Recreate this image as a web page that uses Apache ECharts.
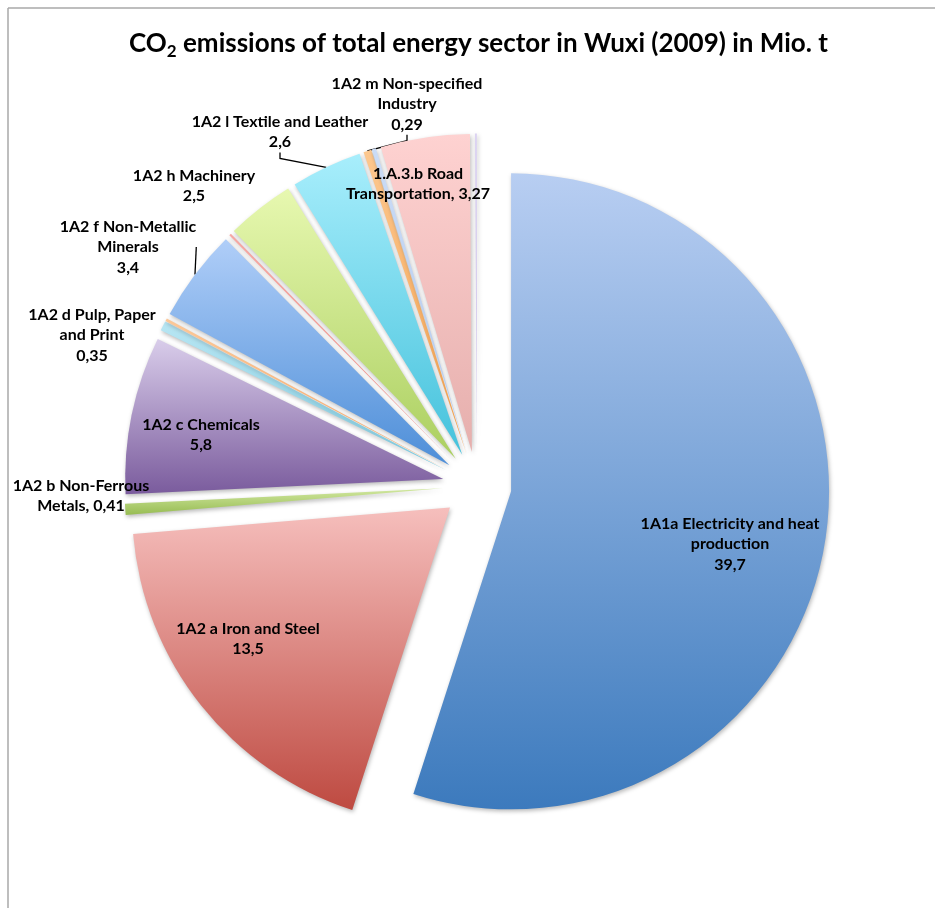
<!DOCTYPE html>
<html>
<head>
<meta charset="utf-8">
<script src="https://cdn.jsdelivr.net/npm/echarts@6/dist/echarts.min.js"></script>
<style>
html,body{margin:0;padding:0;background:#fff;}
#c{width:935px;height:908px;}
</style>
</head>
<body>
<div id="c"></div>
<script>
// ---- data ----
const categories = [
  '1A1a Electricity and heat production',
  '1A2 a Iron and Steel',
  '1A2 b Non-Ferrous Metals',
  '1A2 c Chemicals',
  '1A2 d Pulp, Paper and Print',
  '1A2 e Food Processing, Beverages and Tobacco',
  '1A2 f Non-Metallic Minerals',
  '1A2 g Transport Equipment',
  '1A2 h Machinery',
  '1A2 l Textile and Leather',
  '1A2 m Non-specified Industry',
  '1.A.3.a Civil Aviation',
  '1.A.3.b Road Transportation',
  '1.A.3.d Navigation'
];
const values = [39.7, 13.5, 0.41, 5.8, 0.35, 0.1, 3.4, 0.08, 2.5, 2.6, 0.29, 0.15, 3.27, 0.07];
const labelNames = [
  '1A1a Electricity and heat\nproduction',
  '1A2 a Iron and Steel',
  '1A2 b Non-Ferrous\nMetals',
  '1A2 c Chemicals',
  '1A2 d Pulp, Paper\nand Print',
  '',
  '1A2 f Non-Metallic\nMinerals',
  '',
  '1A2 h Machinery',
  '1A2 l Textile and Leather',
  '1A2 m Non-specified\nIndustry',
  '',
  '1.A.3.b Road\nTransportation',
  ''
];

// ---- style / layout ----
const CENTER = [477, 486];
const RADIUS = 318;
const EXPLODE = 34.5;
const sep = {2: ', ', 12: ', '};
const colorTop = ['#b8cef2','#f6bfbd','#d2e8a0','#d9cdea','#b8e6f3','#fcc898','#b0cef8','#f6a9a4','#e7f8b0','#a8eefc','#fdc88f','#cadcf6','#fed2d1','#dcd3f2'];
const colorBot = ['#3c7abd','#be4a41','#97bc53','#7a5b9d','#80cbe0','#f7a868','#4d8ed8','#ee8f88','#abcf60','#45c2dc','#f5a04c','#b3c9ef','#e6afad','#c9bde8'];
const labelAt = {0:[730,544],1:[248,639],2:[81,496],3:[201,435],4:[92,335],6:[128,247],8:[194,186],9:[280,132],10:[407,104],12:[418,184]};
const withLine = {6:true, 9:true, 10:true};

const fmt = v => String(v).replace('.', ',');

// visible, exploded slices
const sliceData = categories.map((name, i) => ({
  name: name,
  value: values[i],
  selected: true,
  itemStyle: {
    color: {
      type: 'linear', x: 0, y: 0, x2: 0, y2: 1,
      colorStops: [{offset: 0, color: colorTop[i]}, {offset: 1, color: colorBot[i]}]
    }
  }
}));

// transparent overlay carrying the data labels
const labelData = categories.map((name, i) => ({
  name: name,
  value: values[i],
  label: {
    show: !!labelAt[i],
    position: withLine[i] ? 'outside' : 'inside',
    formatter: labelNames[i] + (sep[i] || '\n') + fmt(values[i])
  },
  labelLine: { show: !!withLine[i], length: 8, length2: 6 }
}));

const chart = echarts.init(document.getElementById('c'));
chart.setOption({
  animation: false,
  backgroundColor: '#fff',
  title: {
    text: '{a|CO}{s|2}{a| emissions of total energy sector in Wuxi (2009) in Mio. t}',
    left: 129,
    top: 27,
    padding: 0,
    textStyle: {
      rich: {
        a: {fontFamily: 'Lato', fontWeight: 'bold', fontSize: 26, color: '#000', lineHeight: 34},
        s: {fontFamily: 'Lato', fontWeight: 'bold', fontSize: 17, color: '#000', lineHeight: 34, padding: [16, 0, 0, 0]}
      }
    }
  },
  graphic: [
    {type: 'line', shape: {x1: 8, y1: 8, x2: 935, y2: 8}, style: {stroke: '#a8a8a8', lineWidth: 1.5}, silent: true},
    {type: 'line', shape: {x1: 8, y1: 8, x2: 8, y2: 908}, style: {stroke: '#a8a8a8', lineWidth: 1.5}, silent: true}
  ],
  series: [{
    type: 'pie',
    center: CENTER,
    radius: RADIUS,
    startAngle: 90,
    clockwise: true,
    selectedMode: 'multiple',
    selectedOffset: EXPLODE,
    emphasis: {disabled: true},
    itemStyle: {
      shadowBlur: 4,
      shadowColor: 'rgba(0,0,0,0.28)',
      shadowOffsetX: 1,
      shadowOffsetY: 2
    },
    label: {show: false},
    labelLine: {show: false},
    data: sliceData
  }, {
    type: 'pie',
    center: CENTER,
    radius: RADIUS + EXPLODE,
    startAngle: 90,
    clockwise: true,
    selectedMode: false,
    silent: true,
    avoidLabelOverlap: false,
    emphasis: {disabled: true},
    itemStyle: {color: 'rgba(0,0,0,0)'},
    label: {
      color: '#000',
      fontFamily: 'Lato',
      fontWeight: 'bold',
      fontSize: 16,
      lineHeight: 20.5,
      align: 'center'
    },
    labelLine: {
      lineStyle: {color: '#000', width: 1.3}
    },
    labelLayout: function (p) {
      const pos = labelAt[p.dataIndex];
      if (!pos) return {};
      return {x: pos[0], y: pos[1], align: 'center', verticalAlign: 'middle', hideOverlap: false};
    },
    data: labelData
  }]
});
</script>
</body>
</html>
